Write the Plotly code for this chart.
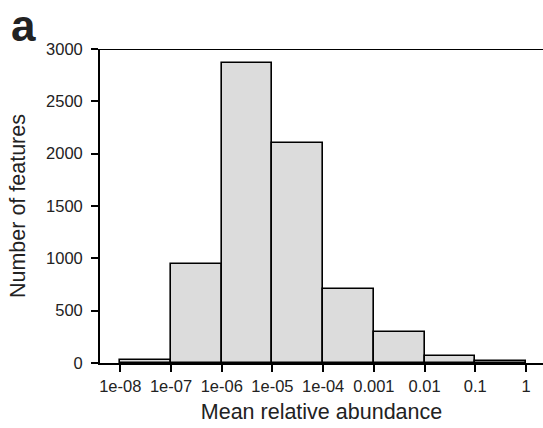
import plotly.graph_objects as go

# Data: histogram of mean relative abundance (log10 bins)
bin_lower_exp = [-8, -7, -6, -5, -4, -3, -2, -1]
counts = [25, 950, 2865, 2100, 705, 295, 65, 18]
tick_exps = [-8, -7, -6, -5, -4, -3, -2, -1, 0]
tick_labels = ["1e-08", "1e-07", "1e-06", "1e-05", "1e-04", "0.001", "0.01", "0.1", "1"]
y_ticks = [0, 500, 1000, 1500, 2000, 2500, 3000]

font_family = "Liberation Sans, Arial, sans-serif"

fig = go.Figure()
fig.add_trace(go.Bar(
    x=[e + 0.5 for e in bin_lower_exp],
    y=counts,
    width=1,
    marker=dict(color="#dcdcdc", line=dict(color="black", width=1.6)),
    showlegend=False,
))

fig.update_layout(
    width=543, height=428,
    margin=dict(l=100, r=0, t=49, b=65),
    plot_bgcolor="white", paper_bgcolor="white",
    font=dict(family=font_family, color="#222222"),
    bargap=0,
    xaxis=dict(
        range=[-8.4, 0.335],
        tickmode="array", tickvals=tick_exps, ticktext=tick_labels,
        ticks="outside", ticklen=7, tickwidth=1.5, tickcolor="black",
        tickfont=dict(size=16.5, color="#222222"),
        showline=True, linecolor="black", linewidth=1.8,
        showgrid=False, zeroline=False,
        title=dict(text="Mean relative abundance", font=dict(size=21.5), standoff=10),
    ),
    yaxis=dict(
        range=[0, 3000],
        tickmode="array", tickvals=y_ticks,
        ticks="outside", ticklen=7, tickwidth=1.5, tickcolor="black",
        tickfont=dict(size=16.5, color="#222222"),
        ticklabelstandoff=5,
        showline=True, linecolor="black", linewidth=1.8,
        showgrid=False, zeroline=False,
    ),
)

# top border line at y = 3000
fig.add_shape(type="line", xref="paper", yref="y", x0=0, x1=1, y0=3000, y1=3000,
              line=dict(color="black", width=1.8))

# y-axis title
fig.add_annotation(text="Number of features", xref="paper", yref="paper",
                   x=-0.185, y=0.5, xanchor="center", yanchor="middle",
                   textangle=-90, showarrow=False,
                   font=dict(size=21.5, family=font_family, color="#222222"))

fig.add_annotation(text="<b>a</b>", xref="paper", yref="paper", x=-0.205, y=1.16,
                   xanchor="left", yanchor="top", showarrow=False,
                   font=dict(size=44, family=font_family, color="#222222"))

fig.write_html("out.html", config={"displayModeBar": False},
               post_script="document.body.style.margin='0';")
